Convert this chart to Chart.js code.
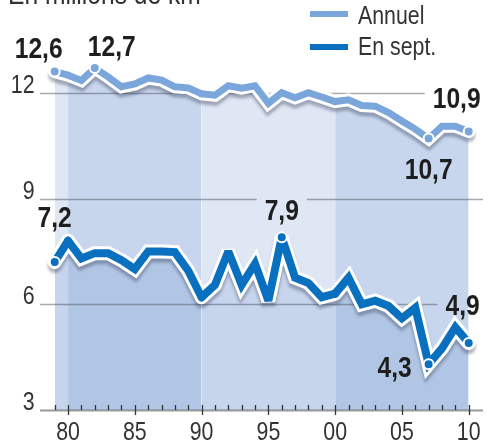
<!DOCTYPE html>
<html lang="fr">
<head>
<meta charset="utf-8">
<title>Banquise arctique</title>
<script src="https://cdn.jsdelivr.net/npm/chart.js@4"></script>
<style>
  html, body { margin: 0; padding: 0; background: #fff; }
  #wrap { width: 491px; height: 447px; position: relative; }
</style>
</head>
<body>
<div id="wrap"><canvas id="iceChart"></canvas></div>
<script>
const years = [1979, 1980, 1981, 1982, 1983, 1984, 1985, 1986, 1987, 1988,
  1989, 1990, 1991, 1992, 1993, 1994, 1995, 1996, 1997, 1998,
  1999, 2000, 2001, 2002, 2003, 2004, 2005, 2006, 2007, 2008, 2009, 2010];
const annual = [12.6, 12.5, 12.35, 12.7, 12.45, 12.17, 12.25, 12.42, 12.36, 12.17,
  12.14, 11.97, 11.93, 12.2, 12.13, 12.2, 11.7, 12.0, 11.86, 12.0,
  11.88, 11.75, 11.8, 11.64, 11.62, 11.44, 11.2, 10.97, 10.7, 11.05, 11.05, 10.9];
const september = [7.2, 7.8, 7.3, 7.45, 7.45, 7.25, 7.0, 7.5, 7.5, 7.48,
  6.95, 6.2, 6.55, 7.5, 6.55, 7.15, 6.1, 7.9, 6.75, 6.6,
  6.2, 6.3, 6.75, 6.0, 6.1, 5.95, 5.6, 5.9, 4.3, 4.75, 5.35, 4.9];
const yTicks = [3, 6, 9, 12];
const xTickYears = [1980, 1985, 1990, 1995, 2000, 2005, 2010];
const xTickLabels = ["80", "85", "90", "95", "00", "05", "10"];
const annualMarked = [1979, 1982, 2007, 2010];
const septMarked = [1979, 1996, 2007, 2010];
const seriesNames = ["Annuel", "En sept."];
const unitTitle = "En millions de km²";

// where each value label sits relative to its dot (same order as the marked lists)
const annualLabelOffsets = [[-16, -14], [17, -12], [0, 40], [-12, -24]];
const septLabelOffsets = [[0, -35], [0, -17], [-34, 13], [-6, -28]];

const ANNUAL_COLOR = "#7aa6db";
const SEPT_COLOR = "#0870be";
const FONT = "'Liberation Sans', Arial, sans-serif";
const SQUEEZE = 0.82; // narrow the type like a condensed face

function inDarkBand(year) {
  return (year >= 1980 && year < 1990) || year >= 2000;
}

function fmt(v) {
  return v.toFixed(1).replace(".", ",");
}

function toPoints(values) {
  return years.map((yr, i) => ({ x: yr, y: values[i] }));
}

function markedRadius(list) {
  return ctx => list.includes(years[ctx.dataIndex]) ? 5 : 0;
}

function drawText(ctx, text, x, y, align, font) {
  ctx.save();
  ctx.font = font;
  ctx.textAlign = align;
  ctx.textBaseline = "alphabetic";
  ctx.translate(x, y);
  ctx.scale(SQUEEZE, 1);
  ctx.fillText(text, 0, 0);
  ctx.restore();
}

function labelBoxes(chart) {
  const ctx = chart.ctx;
  const boxes = [];
  ctx.save();
  ctx.font = "bold 30px " + FONT;
  [[0, annualMarked, annualLabelOffsets, annual], [1, septMarked, septLabelOffsets, september]].forEach(([di, marked, offs, vals]) => {
    const meta = chart.getDatasetMeta(di);
    marked.forEach((yr, k) => {
      const idx = years.indexOf(yr);
      const pt = meta.data[idx];
      const text = fmt(vals[idx]);
      const w = ctx.measureText(text).width * SQUEEZE;
      const cx = pt.x + offs[k][0];
      const base = pt.y + offs[k][1];
      boxes.push({ text, cx, base, x: cx - w / 2 - 8, y: base - 24, w: w + 16, h: 30 });
    });
  });
  ctx.restore();
  return boxes;
}

// white outline + soft shadow under each line
const haloPlugin = {
  id: "halo",
  beforeDatasetDraw(chart, args) {
    const line = args.meta.dataset;
    if (!line) return;
    const ctx = chart.ctx;
    ctx.save();
    ctx.beginPath();
    line.path(ctx);
    ctx.lineWidth = line.options.borderWidth + 6;
    ctx.lineJoin = "miter";
    ctx.miterLimit = 2.5;
    ctx.lineCap = "round";
    ctx.strokeStyle = "#fff";
    ctx.shadowColor = "rgba(50, 60, 85, 0.38)";
    ctx.shadowOffsetY = 4;
    ctx.shadowBlur = 3;
    ctx.stroke();
    ctx.restore();
    ctx.miterLimit = 2.5;
  },
  afterDatasetDraw(chart) {
    chart.ctx.miterLimit = 10;
  }
};

// grid, axis, ticks (drawn after fills, before lines)
const framePlugin = {
  id: "frame",
  beforeDatasetsDraw(chart) {
    const { ctx, scales: { x, y } } = chart;
    ctx.save();
    ctx.beginPath();
    ctx.rect(0, 0, chart.width, chart.height);
    labelBoxes(chart).forEach(b => ctx.rect(b.x, b.y, b.w, b.h));
    ctx.clip("evenodd");
    yTicks.forEach(v => {
      const py = Math.round(y.getPixelForValue(v)) + 0.5;
      ctx.beginPath();
      ctx.moveTo(40, py);
      ctx.lineTo(483, py);
      ctx.lineWidth = v === 3 ? 2 : 1.5;
      ctx.strokeStyle = v === 3 ? "rgba(70, 70, 70, 0.55)" : "rgba(80, 85, 95, 0.5)";
      ctx.stroke();
    });
    ctx.restore();

    ctx.save();
    const base = y.getPixelForValue(3);
    ctx.strokeStyle = "#333";
    ctx.lineWidth = 1.3;
    years.forEach(yr => {
      const px = Math.round(x.getPixelForValue(yr)) + 0.5;
      const major = xTickYears.includes(yr);
      ctx.beginPath();
      ctx.moveTo(px, base - 5);
      ctx.lineTo(px, base + (major ? 5 : 0));
      ctx.stroke();
    });
    ctx.restore();
  },
  afterDatasetsDraw(chart) {
    const { ctx, scales: { x, y } } = chart;
    ctx.save();
    ctx.fillStyle = "#333";
    const tickFont = "26px " + FONT;

    yTicks.forEach(v => drawText(ctx, String(v), 34.5, y.getPixelForValue(v), "right", tickFont));
    xTickYears.forEach((yr, i) => drawText(ctx, xTickLabels[i], x.getPixelForValue(yr), 440, "center", tickFont));

    // unit title, cut off at the top
    drawText(ctx, unitTitle, 8, 4, "left", "30px " + FONT);

    // legend
    [[ANNUAL_COLOR, 14, 24], [SEPT_COLOR, 47, 55]].forEach(([color, ly, tb], i) => {
      ctx.fillStyle = color;
      ctx.fillRect(310, ly - 3, 38, 6);
      ctx.fillStyle = "#333";
      drawText(ctx, seriesNames[i], 358, tb, "left", tickFont);
    });

    // value labels
    ctx.fillStyle = "#1e1e1e";
    labelBoxes(chart).forEach(b => drawText(ctx, b.text, b.cx, b.base, "center", "bold 30px " + FONT));
    ctx.restore();
  }
};

const ctx = document.getElementById("iceChart").getContext("2d");
const chart = new Chart(ctx, {
  type: "line",
  data: {
    datasets: [
      {
        label: seriesNames[0],
        data: toPoints(annual),
        borderColor: ANNUAL_COLOR,
        borderWidth: 7,
        borderCapStyle: "round",
        borderJoinStyle: "miter",
        tension: 0,
        fill: "+1",
        segment: {
          backgroundColor: c => inDarkBand(years[c.p0DataIndex]) ? "#c8d6ed" : "#dfe6f4"
        },
        pointRadius: markedRadius(annualMarked),
        pointBackgroundColor: ANNUAL_COLOR,
        pointBorderColor: "#fff",
        pointBorderWidth: 2,
        clip: false
      },
      {
        label: seriesNames[1],
        data: toPoints(september),
        borderColor: SEPT_COLOR,
        borderWidth: 8,
        borderCapStyle: "round",
        borderJoinStyle: "miter",
        tension: 0,
        fill: "start",
        segment: {
          backgroundColor: c => inDarkBand(years[c.p0DataIndex]) ? "#b1c6e5" : "#c6d4ec"
        },
        pointRadius: markedRadius(septMarked),
        pointBackgroundColor: SEPT_COLOR,
        pointBorderColor: "#fff",
        pointBorderWidth: 2,
        clip: false
      }
    ]
  },
  options: {
    responsive: true,
    maintainAspectRatio: false,
    animation: false,
    devicePixelRatio: 1,
    layout: { padding: { left: 54.7, right: 22.3, top: 0, bottom: 37 } },
    scales: {
      x: { type: "linear", min: 1979, max: 2010, display: false },
      y: { type: "linear", min: 3, max: 3 + 410 / 35.86, display: false }
    },
    plugins: {
      legend: { display: false },
      tooltip: { enabled: false },
      filler: { drawTime: "beforeDatasetsDraw" }
    }
  },
  plugins: [framePlugin, haloPlugin]
});
</script>
</body>
</html>
